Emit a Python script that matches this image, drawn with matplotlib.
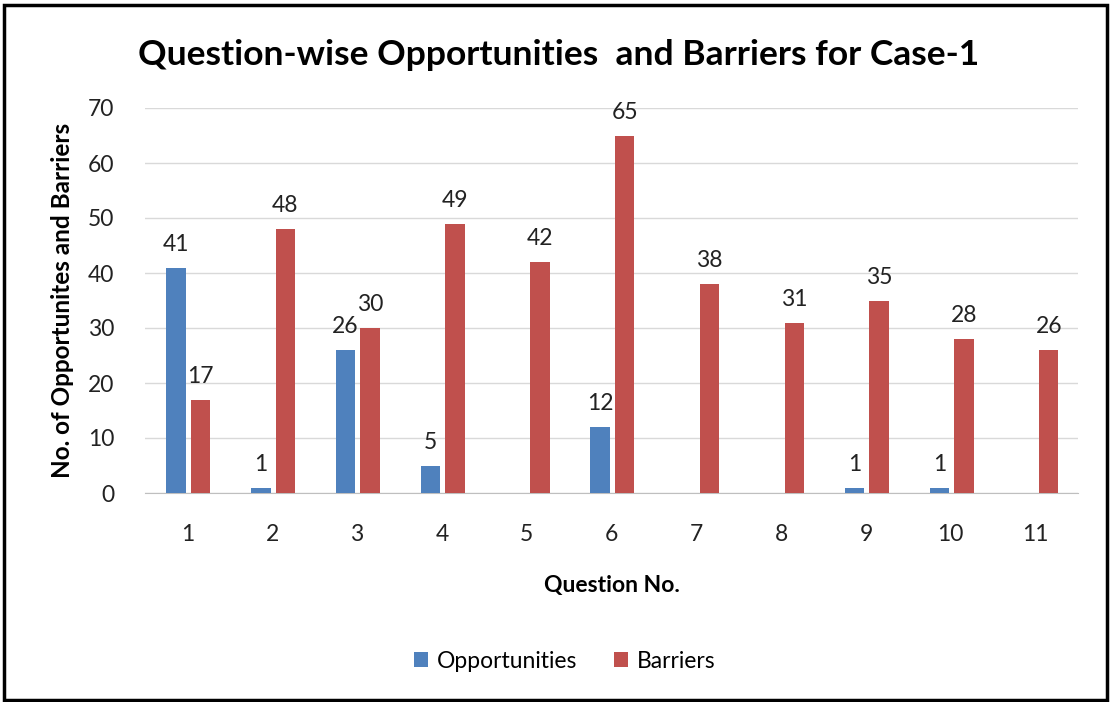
import matplotlib.pyplot as plt
import numpy as np
from matplotlib.patches import Rectangle

plt.rcParams['font.family'] = ['Lato', 'DejaVu Sans']

questions = ['1', '2', '3', '4', '5', '6', '7', '8', '9', '10', '11']
opportunities = [41, 1, 26, 5, 0, 12, 0, 0, 1, 1, 0]
barriers = [17, 48, 30, 49, 42, 65, 38, 31, 35, 28, 26]

blue = '#4F81BD'
red = '#C0504D'

fig = plt.figure(figsize=(11.11, 7.02), dpi=100)
ax = fig.add_axes([145 / 1111, 1 - 493 / 702, (1078 - 145) / 1111, (493 - 108) / 702])

x = np.arange(1, len(questions) + 1)
width = 0.23
ax.bar(x - 0.135, opportunities, width, color=blue, label='Opportunities', zorder=3)
ax.bar(x + 0.155, barriers, width, color=red, label='Barriers', zorder=3)

# value labels (zero opportunities are not labelled)
for xi, v in zip(x, opportunities):
    if v > 0:
        ax.text(xi - 0.135, v + 2.3, str(v), ha='center', va='bottom', fontsize=16.5, color='#222222')
for xi, v in zip(x, barriers):
    ax.text(xi + 0.155, v + 2.3, str(v), ha='center', va='bottom', fontsize=16.5, color='#222222')

ax.set_xlim(0.5, 11.5)
ax.set_ylim(0, 70)
ax.set_yticks(range(0, 71, 10))
ax.set_xticks(x)
ax.set_xticklabels(questions)
ax.tick_params(axis='both', length=0, labelsize=16.5, colors='#222222')
ax.tick_params(axis='x', pad=22)
ax.tick_params(axis='y', pad=22)
ax.grid(axis='y', color='#D9D9D9', linewidth=1, zorder=0)
for side in ['top', 'right', 'left']:
    ax.spines[side].set_visible(False)
ax.spines['bottom'].set_color('#BFBFBF')

ax.set_xlabel('Question No.', fontsize=16.5, fontweight='bold', labelpad=22)
ax.set_ylabel('No. of Opportunites and Barriers', fontsize=17.5, fontweight='bold', labelpad=10)

fig.text(559 / 1111, 1 - 55 / 702, 'Question-wise Opportunities  and Barriers for Case-1',
         ha='center', va='center', fontsize=25.5, fontweight='bold')

fig.legend(loc='center', bbox_to_anchor=(565 / 1111, 1 - 661 / 702), ncol=2, frameon=False,
           fontsize=16.5, handlelength=0.6, handleheight=0.6, columnspacing=1.6, handletextpad=0.4)

# outer chart border
fig.patches.append(Rectangle((4 / 1111, 2 / 702), 1103 / 1111, 695 / 702, transform=fig.transFigure,
                             fill=False, edgecolor='black', linewidth=2.5))

fig.savefig('out.png', dpi=100)
